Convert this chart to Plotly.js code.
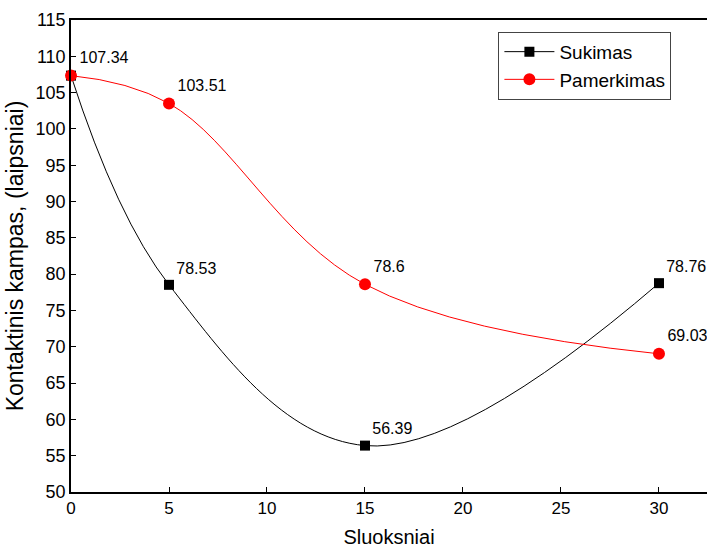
<!DOCTYPE html>
<html><head><meta charset="utf-8">
<script src="https://cdn.plot.ly/plotly-3.0.1.min.js"></script>
<style>html,body{margin:0;padding:0;background:#fff}#c{width:707px;height:548px}</style>
</head><body><div id="c"></div>
<script>
var layers = [0, 5, 15, 30];
var sukimas = [107.34, 78.53, 56.39, 78.76];
var pamerkimas = [107.34, 103.51, 78.6, 69.03];
var sukLabels = ['', '78.53', '56.39', '78.76'];
var pamLabels = ['107.34', '103.51', '78.6', '69.03'];
var F = 'Liberation Sans, Arial, sans-serif';
var traces = [
 {x: layers, y: sukimas, name: 'Sukimas', mode: 'lines+markers+text', text: sukLabels, textposition: 'top right',
  textfont: {family: F, size: 16, color: '#000'},
  line: {color: '#000', width: 1, shape: 'spline', smoothing: 1.1}, marker: {symbol: 'square', size: 10, color: '#000'}, cliponaxis: false},
 {x: layers, y: pamerkimas, name: 'Pamerkimas', mode: 'lines+markers+text', text: pamLabels, textposition: 'top right',
  textfont: {family: F, size: 16, color: '#000'},
  line: {color: '#ff0000', width: 1, shape: 'spline', smoothing: 1.1}, marker: {symbol: 'circle', size: 12, color: '#ff0000'}, cliponaxis: false}
];
var layout = {
 width: 707, height: 548,
 margin: {l: 71, r: 0, t: 20, b: 56},
 paper_bgcolor: '#fff', plot_bgcolor: '#fff',
 font: {family: F, color: '#000'},
 showlegend: true,
 legend: {x: 0.672, y: 0.975, xanchor: 'left', yanchor: 'top', bordercolor: '#444', borderwidth: 1, bgcolor: '#fff',
  font: {family: F, size: 19}, itemwidth: 50, tracegroupgap: 0},
 xaxis: {range: [0, 32.45], tickvals: [0,5,10,15,20,25,30], ticks: 'inside', ticklen: 5, tickcolor: '#000',
  showline: true, linecolor: '#000', linewidth: 1.5, mirror: true, showgrid: false, zeroline: false,
  tickfont: {family: F, size: 17}, title: {text: 'Sluoksniai', font: {family: F, size: 20}, standoff: 14}},
 yaxis: {range: [50, 115], dtick: 5, ticks: 'inside', ticklen: 5, tickcolor: '#000',
  showline: true, linecolor: '#000', linewidth: 1.5, mirror: true, showgrid: false, zeroline: false,
  tickfont: {family: F, size: 18}, title: {text: 'Kontaktinis kampas, (laipsniai)', font: {family: F, size: 23}, standoff: 6}}
};
Plotly.newPlot('c', traces, layout, {displayModeBar: false});
</script></body></html>
